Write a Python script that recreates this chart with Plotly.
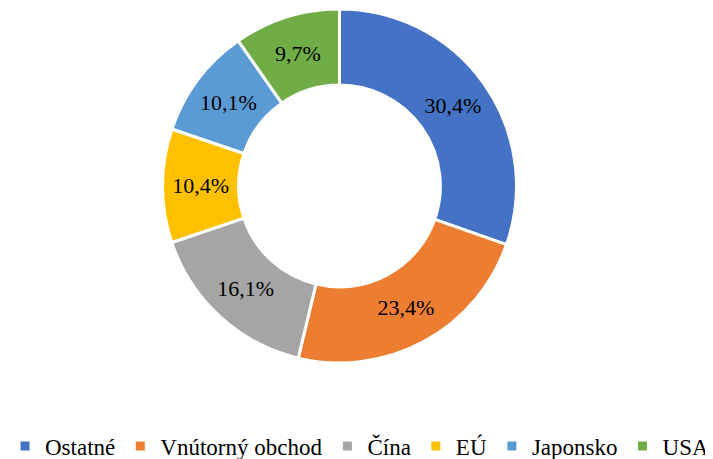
import plotly.graph_objects as go

categories = ["Ostatné", "Vnútorný obchod", "Čína", "EÚ", "Japonsko", "USA"]
values = [30.4, 23.4, 16.1, 10.4, 10.1, 9.7]
colors = ["#4472C4", "#ED7D31", "#A5A5A5", "#FFC000", "#5B9BD5", "#70AD47"]

SERIF = "Liberation Serif, Times New Roman, DejaVu Serif, serif"

fig = go.Figure(go.Pie(
    labels=categories,
    values=values,
    hole=0.57,
    sort=False,
    direction="clockwise",
    rotation=0,
    marker=dict(colors=colors, line=dict(color="white", width=3)),
    texttemplate="%{value:.1f}%",
    textposition="inside",
    insidetextorientation="horizontal",
    textfont=dict(family=SERIF, size=22, color="black"),
    domain=dict(x=[0.2191, 0.7213], y=[0.2129, 0.9978]),
))

fig.update_layout(
    width=705, height=451,
    separators=", ",
    margin=dict(l=0, r=0, t=0, b=0, autoexpand=False),
    paper_bgcolor="white",
    plot_bgcolor="white",
    font=dict(family=SERIF, size=23, color="black"),
    legend=dict(orientation="h", x=0.4986, xanchor="center", y=0.0288, yanchor="middle",
                font=dict(family=SERIF, size=23, color="black"),
                itemwidth=30, tracegroupgap=0),
)

fig.write_html("out.html")
